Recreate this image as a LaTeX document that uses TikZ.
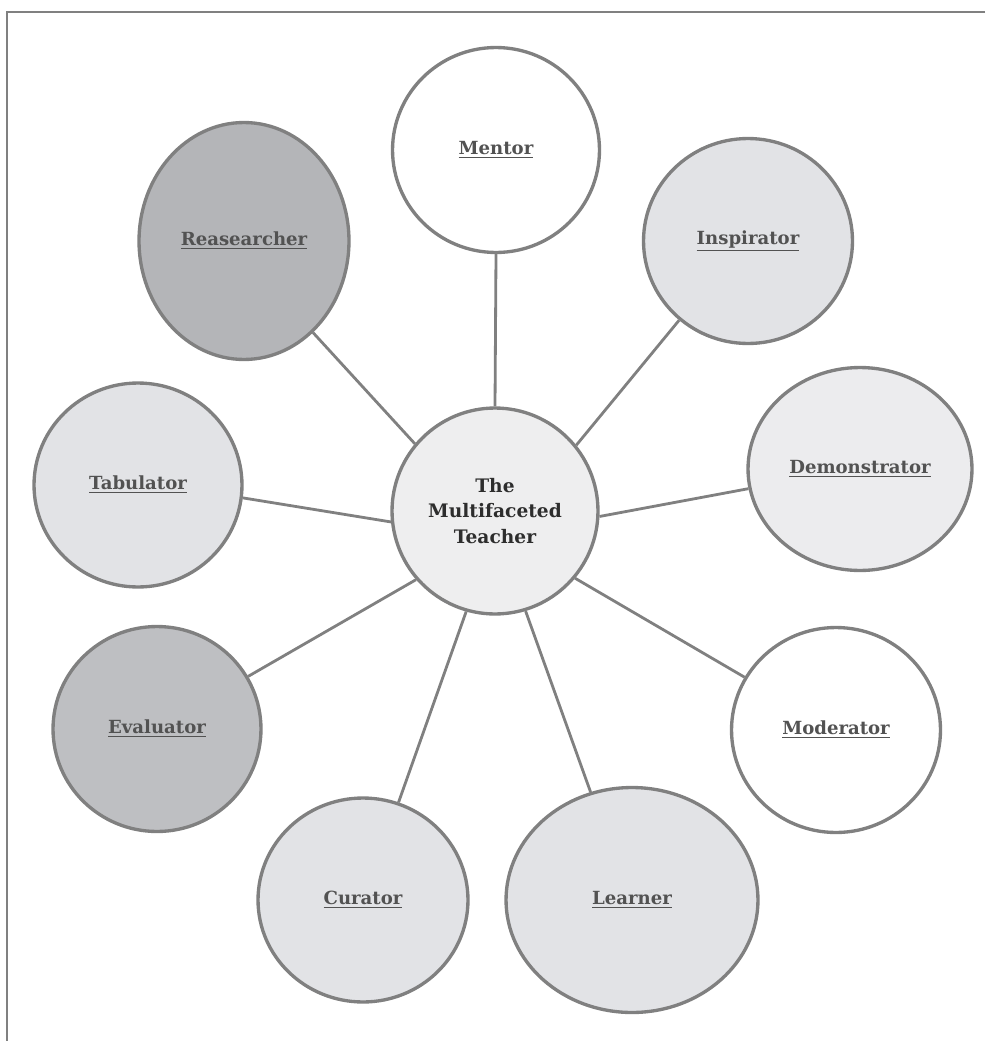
\documentclass[tikz,border=0pt]{standalone}
\usepackage{fontspec}
\setmainfont{DejaVu Serif}
\usetikzlibrary{shapes.geometric}

\definecolor{rim}{RGB}{128,128,128}
\definecolor{labelgray}{RGB}{82,82,82}
\definecolor{coregray}{RGB}{45,45,45}
\definecolor{darkfill}{RGB}{180,181,184}
\definecolor{midfill}{RGB}{190,191,194}
\definecolor{lightfill}{RGB}{226,227,230}
\definecolor{paler}{RGB}{236,236,238}
\definecolor{corefill}{RGB}{238,238,239}

\tikzset{
  role/.style={ellipse, draw=rim, line width=1.9pt, inner sep=0pt, text=labelgray,
    font=\bfseries\fontsize{10.3}{12}\selectfont},
  spoke/.style={draw=rim, line width=1.6pt}
}

\begin{document}
\begin{tikzpicture}[x=0.02cm,y=-0.02cm]
            \useasboundingbox (0,0) rectangle (985,1041);
            \draw[rim, line width=1.1pt] (985,12) -- (7,12) -- (7,1041);
            % the centre
            \node[role, circle, fill=corefill, minimum size=4.12cm, text=coregray, align=center,
              font=\bfseries\fontsize{10.6}{14.5}\selectfont] (teacher) at (495,511)
              {The\\Multifaceted\\Teacher};
            % the roles around it
            \node[role, fill=white, minimum width=4.14cm, minimum height=4.1cm] (mentor) at (496,150) {\underline{Mentor}};
            \node[role, fill=darkfill, minimum width=4.2cm, minimum height=4.74cm] (researcher) at (244,241) {\underline{Reasearcher}};
            \node[role, fill=lightfill, minimum width=4.18cm, minimum height=4.1cm] (inspirator) at (748,241) {\underline{Inspirator}};
            \node[role, fill=paler, minimum width=4.48cm, minimum height=4.06cm] (demonstrator) at (860,469) {\underline{Demonstrator}};
            \node[role, fill=lightfill, minimum width=4.16cm, minimum height=4.08cm] (tabulator) at (138,485) {\underline{Tabulator}};
            \node[role, fill=white, minimum width=4.18cm, minimum height=4.1cm] (moderator) at (836,730) {\underline{Moderator}};
            \node[role, fill=midfill, minimum width=4.16cm, minimum height=4.1cm] (evaluator) at (157,729) {\underline{Evaluator}};
            \node[role, fill=lightfill, minimum width=4.2cm, minimum height=4.08cm] (curator) at (363,900) {\underline{Curator}};
            \node[role, fill=lightfill, minimum width=5.04cm, minimum height=4.5cm] (learner) at (632,900) {\underline{Learner}};
            % spokes
            \foreach \a/\n/\b in {90/mentor/-90, 140/researcher/-53, 39.5/inspirator/-131,
                -3/demonstrator/-170, -40/moderator/150, -73/learner/111,
                -106/curator/70, -139/evaluator/30, -174/tabulator/-7}{
              \draw[spoke] (teacher.\a) -- (\n.\b);
            }
          \end{tikzpicture}
\end{document}
